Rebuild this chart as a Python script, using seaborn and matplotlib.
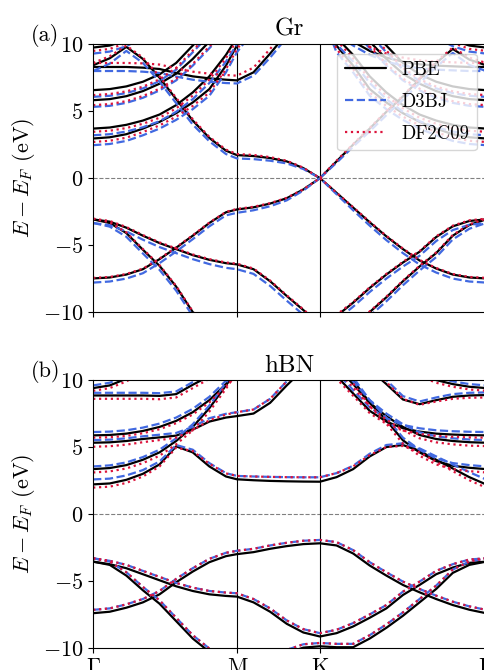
import matplotlib
matplotlib.use('Agg')
import matplotlib.pyplot as plt
import seaborn as sns
import pandas as pd

# k-path Gamma-M-K-Gamma (units of |Gamma K|), energies in eV
kpath = [0.0, 0.1, 0.2, 0.3, 0.4, 0.5, 0.6, 0.7, 0.8, 0.866,
         0.966, 1.066, 1.166, 1.266, 1.366,
         1.466, 1.566, 1.666, 1.766, 1.866, 1.966, 2.066, 2.166, 2.266, 2.366]
tick_pos = [0.0, 0.866, 1.366, 2.366]
tick_labels = [r'$\Gamma$', 'M', 'K', r'$\Gamma$']
methods = ['PBE', 'D3BJ', 'DF2C09']

# ---- graphene, PBE
gr_pbe_pi = [-7.49, -7.42, -7.20, -6.80, -6.05, -5.20, -4.30, -3.35, -2.55, -2.34,
             -2.18, -1.90, -1.50, -0.85, 0.00,
             -1.10, -2.20, -3.30, -4.35, -5.30, -6.15, -6.75, -7.20, -7.42, -7.49]
gr_pbe_s1 = [-3.08, -3.35, -4.10, -5.35, -6.55, -8.10, -10.0, -11.5, -12.5, -13.0,
             -13.0, -13.0, -13.0, -12.5, -12.0,
             -10.3, -9.30, -8.20, -7.20, -6.30, -5.50, -4.40, -3.60, -3.20, -3.08]
gr_pbe_s2 = [-3.08, -3.25, -3.70, -4.30, -4.85, -5.30, -5.75, -6.10, -6.35, -6.44,
             -6.80, -7.70, -8.80, -9.85, -11.0,
             -12.0, -11.2, -10.0, -8.90, -7.70, -6.60, -5.60, -4.30, -3.50, -3.08]
gr_pbe_pis = [8.43, 8.95, 9.80, 8.90, 7.50, 5.90, 4.30, 3.00, 2.05, 1.72,
              1.65, 1.50, 1.25, 0.75, 0.00,
              1.25, 2.50, 3.70, 4.95, 6.10, 7.40, 8.60, 9.65, 8.85, 8.43]
gr_pbe_b = [8.30, 8.30, 8.30, 8.25, 8.15, 7.85, 7.60, 7.45, 7.35, 7.30,
            7.90, 9.30, 10.8, 12.0, 12.5,
            11.0, 10.2, 9.50, 9.00, 8.70, 8.50, 8.40, 8.35, 8.30, 8.30]
gr_pbe_n1 = [2.96, 3.05, 3.28, 3.70, 4.20, 4.85, 5.65, 6.65, 8.40, 9.90,
             11.5, 13.0, 13.0, 13.0, 13.0,
             9.90, 8.40, 6.65, 5.65, 4.85, 4.20, 3.70, 3.28, 3.05, 2.96]
gr_pbe_n2 = [3.70, 3.78, 3.98, 4.30, 4.75, 5.45, 6.40, 7.60, 9.20, 10.5,
             12.0, 13.0, 13.0, 13.0, 13.0,
             10.5, 9.20, 7.60, 6.40, 5.45, 4.75, 4.30, 3.98, 3.78, 3.70]
gr_pbe_n3 = [5.82, 5.90, 6.12, 6.50, 7.05, 7.80, 8.90, 10.2, 11.5, 12.5,
             13.0, 13.0, 13.0, 13.0, 13.0,
             12.5, 11.5, 10.2, 8.90, 7.80, 7.05, 6.50, 6.12, 5.90, 5.82]
gr_pbe_n4 = [6.57, 6.65, 6.85, 7.20, 7.75, 8.60, 9.90, 11.2, 12.5, 13.0,
             13.0, 13.0, 13.0, 13.0, 13.0,
             13.0, 12.5, 11.2, 9.90, 8.60, 7.75, 7.20, 6.85, 6.65, 6.57]
gr_pbe_n5 = [9.75, 9.90, 10.3, 11.0, 12.0, 13.0, 13.0, 13.0, 13.0, 13.0,
             13.0, 13.0, 13.0, 13.0, 13.0,
             13.0, 13.0, 13.0, 13.0, 13.0, 12.0, 11.0, 10.3, 9.90, 9.75]

# ---- graphene, D3BJ
gr_d3_pi = [-7.80, -7.72, -7.50, -7.10, -6.35, -5.48, -4.56, -3.60, -2.78, -2.59,
            -2.40, -2.10, -1.66, -0.93, 0.00,
            -1.20, -2.40, -3.55, -4.63, -5.60, -6.45, -7.05, -7.50, -7.72, -7.80]
gr_d3_s1 = [-3.35, -3.62, -4.38, -5.63, -6.85, -8.40, -10.3, -11.8, -12.8, -13.3,
            -13.3, -13.3, -13.3, -12.8, -12.3,
            -10.6, -9.60, -8.50, -7.50, -6.60, -5.80, -4.70, -3.88, -3.48, -3.35]
gr_d3_s2 = [-3.35, -3.52, -3.98, -4.60, -5.15, -5.60, -6.05, -6.42, -6.70, -6.80,
            -7.15, -8.05, -9.15, -10.2, -11.3,
            -12.3, -11.5, -10.3, -9.20, -8.00, -6.90, -5.90, -4.58, -3.78, -3.35]
gr_d3_pis = [8.00, 8.55, 9.50, 8.60, 7.20, 5.60, 4.00, 2.75, 1.80, 1.47,
             1.42, 1.30, 1.10, 0.68, 0.00,
             1.15, 2.35, 3.50, 4.70, 5.85, 7.10, 8.30, 9.35, 8.45, 8.00]
gr_d3_b = [8.00, 8.00, 8.00, 7.95, 7.85, 7.58, 7.35, 7.20, 7.10, 7.07,
           7.65, 9.00, 10.5, 11.7, 12.2,
           10.7, 9.90, 9.20, 8.70, 8.40, 8.20, 8.10, 8.05, 8.00, 8.00]
gr_d3_n1 = [2.46, 2.55, 2.78, 3.20, 3.70, 4.35, 5.15, 6.15, 7.90, 9.40,
            11.0, 12.5, 12.5, 12.5, 12.5,
            9.40, 7.90, 6.15, 5.15, 4.35, 3.70, 3.20, 2.78, 2.55, 2.46]
gr_d3_n2 = [3.20, 3.28, 3.48, 3.80, 4.25, 4.95, 5.90, 7.10, 8.70, 10.0,
            11.5, 12.5, 12.5, 12.5, 12.5,
            10.0, 8.70, 7.10, 5.90, 4.95, 4.25, 3.80, 3.48, 3.28, 3.20]
gr_d3_n3 = [5.32, 5.40, 5.62, 6.00, 6.55, 7.30, 8.40, 9.70, 11.0, 12.0,
            12.5, 12.5, 12.5, 12.5, 12.5,
            12.0, 11.0, 9.70, 8.40, 7.30, 6.55, 6.00, 5.62, 5.40, 5.32]
gr_d3_n4 = [6.07, 6.15, 6.35, 6.70, 7.25, 8.10, 9.40, 10.7, 12.0, 12.5,
            12.5, 12.5, 12.5, 12.5, 12.5,
            12.5, 12.0, 10.7, 9.40, 8.10, 7.25, 6.70, 6.35, 6.15, 6.07]
gr_d3_n5 = [9.30, 9.45, 9.85, 10.5, 11.5, 12.5, 12.5, 12.5, 12.5, 12.5,
            12.5, 12.5, 12.5, 12.5, 12.5,
            12.5, 12.5, 12.5, 12.5, 12.5, 11.5, 10.5, 9.85, 9.45, 9.30]

# ---- graphene, DF2C09
gr_df_pi = [-7.45, -7.38, -7.16, -6.76, -6.01, -5.16, -4.27, -3.32, -2.52, -2.30,
            -2.14, -1.87, -1.47, -0.83, 0.00,
            -1.08, -2.17, -3.26, -4.31, -5.26, -6.11, -6.71, -7.16, -7.38, -7.45]
gr_df_s1 = [-3.03, -3.30, -4.05, -5.30, -6.50, -8.05, -9.95, -11.4, -12.4, -12.9,
            -12.9, -12.9, -12.9, -12.4, -11.9,
            -10.2, -9.25, -8.15, -7.15, -6.25, -5.45, -4.35, -3.55, -3.15, -3.03]
gr_df_s2 = [-3.03, -3.20, -3.65, -4.25, -4.80, -5.25, -5.70, -6.05, -6.30, -6.39,
            -6.75, -7.65, -8.75, -9.80, -10.9,
            -11.9, -11.1, -9.95, -8.85, -7.65, -6.55, -5.55, -4.25, -3.45, -3.03]
gr_df_pis = [8.60, 9.10, 9.90, 9.00, 7.60, 6.00, 4.40, 3.08, 2.13, 1.80,
             1.73, 1.57, 1.30, 0.78, 0.00,
             1.30, 2.55, 3.75, 5.00, 6.15, 7.45, 8.70, 9.75, 9.00, 8.60]
gr_df_b = [8.60, 8.60, 8.60, 8.57, 8.48, 8.20, 7.95, 7.80, 7.70, 7.65,
           8.25, 9.65, 11.1, 12.3, 12.8,
           11.3, 10.5, 9.80, 9.30, 9.00, 8.80, 8.70, 8.65, 8.60, 8.60]
gr_df_n1 = [2.70, 2.79, 3.02, 3.44, 3.94, 4.59, 5.39, 6.39, 8.14, 9.64,
            11.2, 12.7, 12.7, 12.7, 12.7,
            9.64, 8.14, 6.39, 5.39, 4.59, 3.94, 3.44, 3.02, 2.79, 2.70]
gr_df_n2 = [3.46, 3.54, 3.74, 4.06, 4.51, 5.21, 6.16, 7.36, 8.96, 10.3,
            11.8, 12.7, 12.7, 12.7, 12.7,
            10.3, 8.96, 7.36, 6.16, 5.21, 4.51, 4.06, 3.74, 3.54, 3.46]
gr_df_n3 = [5.45, 5.53, 5.75, 6.13, 6.68, 7.43, 8.53, 9.83, 11.1, 12.1,
            12.7, 12.7, 12.7, 12.7, 12.7,
            12.1, 11.1, 9.83, 8.53, 7.43, 6.68, 6.13, 5.75, 5.53, 5.45]
gr_df_n4 = [6.20, 6.28, 6.48, 6.83, 7.38, 8.23, 9.53, 10.8, 12.1, 12.7,
            12.7, 12.7, 12.7, 12.7, 12.7,
            12.7, 12.1, 10.8, 9.53, 8.23, 7.38, 6.83, 6.48, 6.28, 6.20]
gr_df_n5 = [9.50, 9.65, 10.1, 10.8, 11.8, 12.7, 12.7, 12.7, 12.7, 12.7,
            12.7, 12.7, 12.7, 12.7, 12.7,
            12.7, 12.7, 12.7, 12.7, 12.7, 11.8, 10.8, 10.1, 9.65, 9.50]

# ---- hBN, PBE
bn_pbe_pi = [-7.41, -7.30, -7.00, -6.60, -6.00, -5.10, -4.30, -3.60, -3.15, -3.00,
             -2.85, -2.60, -2.40, -2.25, -2.19,
             -2.35, -2.95, -3.85, -4.60, -5.30, -5.85, -6.35, -6.80, -7.15, -7.41]
bn_pbe_s1 = [-3.56, -3.80, -4.60, -5.70, -6.70, -8.00, -9.30, -10.3, -11.2, -11.5,
             -11.2, -10.8, -10.4, -9.98, -9.88,
             -9.95, -9.95, -9.30, -8.50, -7.60, -6.60, -5.60, -4.40, -3.80, -3.56]
bn_pbe_s2 = [-3.56, -3.75, -4.05, -4.50, -4.95, -5.40, -5.75, -6.00, -6.12, -6.17,
             -6.60, -7.30, -8.20, -8.85, -9.15,
             -8.90, -8.40, -7.75, -7.05, -6.05, -5.30, -4.50, -4.00, -3.65, -3.56]
bn_pbe_c1 = [2.21, 2.28, 2.55, 3.00, 3.70, 5.05, 4.60, 3.55, 2.80, 2.59,
             2.52, 2.47, 2.44, 2.42, 2.41,
             2.75, 3.35, 4.30, 5.00, 5.15, 4.70, 4.05, 3.40, 2.75, 2.21]
bn_pbe_c2 = [3.35, 3.43, 3.65, 4.05, 4.60, 5.45, 6.50, 7.90, 9.60, 10.8,
             12.0, 13.0, 13.0, 13.0, 13.0,
             12.0, 10.0, 8.30, 7.00, 5.50, 4.60, 3.95, 3.60, 3.45, 3.35]
bn_pbe_c3 = [5.32, 5.35, 5.45, 5.60, 5.72, 5.85, 6.30, 6.90, 7.20, 7.31,
             7.50, 8.30, 9.60, 10.8, 12.0,
             12.5, 12.0, 10.8, 9.70, 8.55, 8.20, 8.50, 8.75, 8.85, 8.88]
bn_pbe_c4 = [5.87, 5.90, 6.00, 6.20, 6.50, 6.95, 7.60, 8.50, 9.70, 10.6,
             12.0, 13.0, 13.0, 13.0, 12.0,
             10.3, 9.00, 7.70, 6.90, 6.40, 6.15, 6.00, 5.93, 5.89, 5.87]
bn_pbe_c5 = [8.85, 8.85, 8.85, 8.85, 8.82, 8.95, 9.65, 10.3, 11.2, 12.0,
             13.0, 13.0, 13.0, 13.0, 13.0,
             11.0, 9.70, 8.30, 7.30, 6.50, 5.90, 5.60, 5.45, 5.36, 5.32]
bn_pbe_c6 = [9.40, 9.60, 10.1, 10.8, 11.5, 12.0, 13.0, 13.0, 13.0, 13.0,
             13.0, 13.0, 13.0, 13.0, 13.0,
             13.0, 13.0, 13.0, 12.0, 11.2, 10.5, 10.0, 9.70, 9.50, 9.40]

# ---- hBN valence bands: D3BJ and DF2C09 lie on top of each other
bn_vdw_pi = [-7.16, -7.05, -6.75, -6.35, -5.75, -4.85, -4.05, -3.35, -2.90, -2.75,
             -2.60, -2.35, -2.15, -2.00, -1.94,
             -2.10, -2.70, -3.60, -4.35, -5.05, -5.60, -6.10, -6.55, -6.90, -7.16]
bn_vdw_s1 = [-3.31, -3.55, -4.35, -5.45, -6.45, -7.75, -9.05, -10.05, -10.95, -11.25,
             -10.95, -10.55, -10.15, -9.73, -9.63,
             -9.70, -9.70, -9.05, -8.25, -7.35, -6.35, -5.35, -4.15, -3.55, -3.31]
bn_vdw_s2 = [-3.31, -3.50, -3.80, -4.25, -4.70, -5.15, -5.50, -5.75, -5.87, -5.92,
             -6.35, -7.05, -7.95, -8.60, -8.90,
             -8.65, -8.15, -7.50, -6.80, -5.80, -5.05, -4.25, -3.75, -3.40, -3.31]

# ---- hBN conduction, D3BJ
bn_d3_c1 = [2.58, 2.64, 2.88, 3.28, 3.92, 5.15, 4.80, 3.80, 3.05, 2.84,
            2.80, 2.77, 2.75, 2.74, 2.74,
            3.05, 3.60, 4.50, 5.15, 5.28, 4.90, 4.30, 3.70, 3.12, 2.58]
bn_d3_c2 = [3.55, 3.63, 3.85, 4.25, 4.80, 5.65, 6.70, 8.10, 9.80, 11.0,
            12.2, 13.0, 13.0, 13.0, 13.0,
            12.2, 10.2, 8.50, 7.20, 5.70, 4.80, 4.15, 3.80, 3.65, 3.55]
bn_d3_c3 = [5.52, 5.55, 5.65, 5.80, 5.92, 6.05, 6.50, 7.15, 7.48, 7.60,
            7.80, 8.60, 9.90, 11.1, 12.3,
            12.8, 12.3, 11.1, 10.0, 8.80, 8.40, 8.70, 8.95, 9.05, 9.08]
bn_d3_c4 = [6.12, 6.15, 6.25, 6.45, 6.75, 7.20, 7.85, 8.75, 9.95, 10.9,
            12.3, 13.0, 13.0, 13.0, 12.3,
            10.6, 9.25, 7.95, 7.15, 6.65, 6.40, 6.25, 6.18, 6.14, 6.12]
bn_d3_c5 = [9.05, 9.05, 9.05, 9.05, 9.02, 9.15, 9.85, 10.5, 11.4, 12.2,
            13.0, 13.0, 13.0, 13.0, 13.0,
            11.2, 9.90, 8.50, 7.50, 6.70, 6.10, 5.80, 5.65, 5.56, 5.52]
bn_d3_c6 = [9.60, 9.80, 10.3, 11.0, 11.7, 12.2, 13.0, 13.0, 13.0, 13.0,
            13.0, 13.0, 13.0, 13.0, 13.0,
            13.0, 13.0, 13.0, 12.2, 11.4, 10.7, 10.2, 9.90, 9.70, 9.60]

# ---- hBN conduction, DF2C09
bn_df_c1 = [1.97, 2.04, 2.32, 2.80, 3.55, 4.95, 4.70, 3.75, 3.03, 2.84,
            2.80, 2.77, 2.75, 2.74, 2.74,
            3.05, 3.55, 4.40, 5.00, 5.08, 4.60, 3.90, 3.20, 2.52, 1.97]
bn_df_c2 = [3.10, 3.18, 3.40, 3.80, 4.35, 5.20, 6.25, 7.65, 9.35, 10.6,
            11.8, 13.0, 13.0, 13.0, 13.0,
            11.8, 9.75, 8.05, 6.75, 5.25, 4.35, 3.70, 3.35, 3.20, 3.10]
bn_df_c3 = [5.02, 5.06, 5.18, 5.36, 5.52, 5.70, 6.25, 7.00, 7.42, 7.60,
            7.80, 8.60, 9.90, 11.1, 12.3,
            12.8, 12.3, 11.0, 9.85, 8.60, 8.15, 8.40, 8.60, 8.68, 8.70]
bn_df_c4 = [5.70, 5.73, 5.83, 6.03, 6.33, 6.78, 7.43, 8.33, 9.53, 10.4,
            11.8, 13.0, 13.0, 13.0, 11.8,
            10.1, 8.83, 7.53, 6.73, 6.23, 5.98, 5.83, 5.76, 5.72, 5.70]
bn_df_c5 = [8.60, 8.60, 8.60, 8.60, 8.57, 8.70, 9.40, 10.1, 11.0, 11.8,
            13.0, 13.0, 13.0, 13.0, 13.0,
            10.8, 9.45, 8.05, 7.05, 6.25, 5.65, 5.35, 5.20, 5.10, 5.07]
bn_df_c6 = [9.20, 9.40, 9.90, 10.6, 11.3, 11.8, 13.0, 13.0, 13.0, 13.0,
            13.0, 13.0, 13.0, 13.0, 13.0,
            13.0, 13.0, 13.0, 11.8, 11.0, 10.3, 9.80, 9.50, 9.30, 9.20]

gr_bands = {
    'PBE': [gr_pbe_pi, gr_pbe_s1, gr_pbe_s2, gr_pbe_pis, gr_pbe_b,
            gr_pbe_n1, gr_pbe_n2, gr_pbe_n3, gr_pbe_n4, gr_pbe_n5],
    'D3BJ': [gr_d3_pi, gr_d3_s1, gr_d3_s2, gr_d3_pis, gr_d3_b,
             gr_d3_n1, gr_d3_n2, gr_d3_n3, gr_d3_n4, gr_d3_n5],
    'DF2C09': [gr_df_pi, gr_df_s1, gr_df_s2, gr_df_pis, gr_df_b,
               gr_df_n1, gr_df_n2, gr_df_n3, gr_df_n4, gr_df_n5],
}
bn_bands = {
    'PBE': [bn_pbe_pi, bn_pbe_s1, bn_pbe_s2, bn_pbe_c1, bn_pbe_c2,
            bn_pbe_c3, bn_pbe_c4, bn_pbe_c5, bn_pbe_c6],
    'D3BJ': [bn_vdw_pi, bn_vdw_s1, bn_vdw_s2, bn_d3_c1, bn_d3_c2,
             bn_d3_c3, bn_d3_c4, bn_d3_c5, bn_d3_c6],
    'DF2C09': [bn_vdw_pi, bn_vdw_s1, bn_vdw_s2, bn_df_c1, bn_df_c2,
               bn_df_c3, bn_df_c4, bn_df_c5, bn_df_c6],
}


def band_frame(bands):
    rows = []
    for method, blist in bands.items():
        for i, energies in enumerate(blist):
            for k, e in zip(kpath, energies):
                rows.append((method, '%s_%d' % (method, i), k, e))
    return pd.DataFrame(rows, columns=['method', 'band', 'k', 'E'])


sns.set_style('ticks', {'axes.edgecolor': 'black', 'text.color': 'black',
                        'xtick.color': 'black', 'ytick.color': 'black',
                        'axes.labelcolor': 'black'})
plt.rcParams['font.family'] = ['cmr10', 'DejaVu Serif']
plt.rcParams['mathtext.fontset'] = 'cm'
plt.rcParams['axes.formatter.use_mathtext'] = True

palette = {'PBE': 'black', 'D3BJ': 'royalblue', 'DF2C09': 'crimson'}
dash_map = {'PBE': '', 'D3BJ': (3.7, 1.6), 'DF2C09': (1, 1.65)}

fig, axes = plt.subplots(2, 1, figsize=(4.85, 6.7), dpi=100, sharex=True)
fig.subplots_adjust(left=0.192, right=1.002, top=0.934, bottom=0.033, hspace=0.254)

panels = [(axes[0], gr_bands, 'Gr', '(a)'), (axes[1], bn_bands, 'hBN', '(b)')]
for n, (ax, bands, title, tag) in enumerate(panels):
    df = band_frame(bands)
    ax.axhline(0, color='gray', ls='--', lw=0.8, zorder=0)
    for kv in tick_pos[1:3]:
        ax.axvline(kv, color='black', lw=0.8, zorder=0.5)
    sns.lineplot(data=df, x='k', y='E', hue='method', style='method', units='band',
                 estimator=None, hue_order=methods, style_order=methods,
                 palette=palette, dashes=dash_map, linewidth=1.6, sort=False,
                 legend=(n == 0), ax=ax)
    ax.set_xlim(0, 2.366)
    ax.set_ylim(-10, 10)
    ax.set_yticks([-10, -5, 0, 5, 10])
    ax.set_xticks(tick_pos)
    ax.set_xticklabels(tick_labels)
    ax.set_xlabel('')
    ax.set_ylabel(r'$E - E_F$ (eV)', fontsize=16)
    ax.set_title(title, fontsize=18)
    ax.tick_params(labelsize=16)
    ax.text(-0.158, 0.99, tag, transform=ax.transAxes, fontsize=16,
            ha='left', va='bottom')
    if n == 0:
        leg = ax.get_legend()
        pairs = [(h, t.get_text()) for h, t in zip(leg.legend_handles, leg.get_texts())
                 if t.get_text() in methods]
        ax.legend([p[0] for p in pairs], [p[1] for p in pairs], loc='upper right',
                  fontsize=13.5, handlelength=2.2, labelspacing=0.75, frameon=True)

fig.savefig('out.png', dpi=100)
